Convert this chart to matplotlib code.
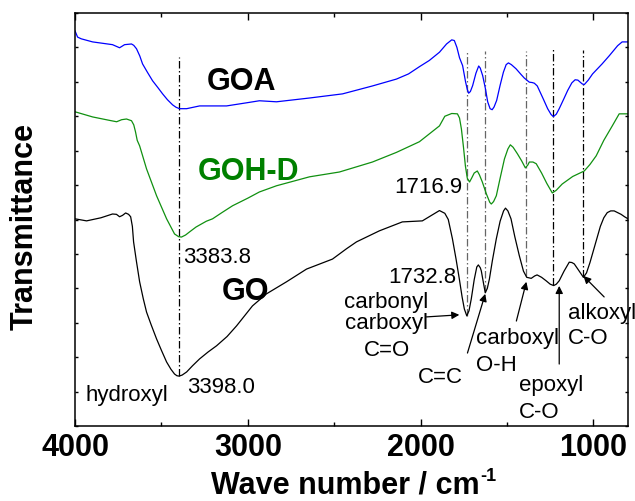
import numpy as np
import matplotlib
matplotlib.use("Agg")
import matplotlib.pyplot as plt

plt.rcParams["font.family"] = ["Liberation Sans", "DejaVu Sans"]

# FTIR spectra, offset vertically (arbitrary transmittance units)
goa_wn = [4000, 3985, 3964, 3898, 3783, 3742, 3713, 3673, 3660, 3644, 3625,
          3609, 3580, 3551, 3520, 3493, 3465, 3435, 3415, 3395, 3354, 3279,
          3123, 3008, 2933, 2834, 2643, 2452, 2279, 2140, 2070, 2007, 1950,
          1891, 1850, 1820, 1805, 1790, 1775, 1757, 1740, 1730, 1722, 1712,
          1699, 1680, 1664, 1655, 1641, 1625, 1612, 1598, 1586, 1575, 1560,
          1540, 1521, 1505, 1492, 1475, 1448, 1420, 1400, 1371, 1355, 1342,
          1325, 1313, 1290, 1265, 1245, 1232, 1215, 1198, 1170, 1149, 1125,
          1106, 1090, 1081, 1065, 1053, 1030, 1005, 950, 908, 860, 834, 800]
goa_t = [11.48, 11.30, 11.25, 11.16, 11.08, 10.99, 11.08, 11.10, 11.06, 10.96,
         10.75, 10.52, 10.27, 10.03, 9.83, 9.65, 9.48, 9.33, 9.26, 9.22, 9.22,
         9.30, 9.30, 9.39, 9.45, 9.42, 9.53, 9.65, 9.88, 10.08, 10.23, 10.44,
         10.62, 10.86, 11.10, 11.22, 11.20, 11.00, 10.70, 10.47, 10.00, 9.78,
         9.67, 9.72, 9.89, 10.25, 10.46, 10.40, 10.18, 9.80, 9.42, 9.22,
         9.19, 9.27, 9.46, 9.90, 10.28, 10.50, 10.55, 10.50, 10.38, 10.22,
         10.11, 9.99, 9.98, 9.96, 9.88, 9.75, 9.50, 9.22, 9.05, 8.99, 9.06,
         9.22, 9.52, 9.75, 9.97, 10.06, 10.05, 10.01, 9.94, 9.92, 10.05,
         10.23, 10.52, 10.76, 11.05, 11.16, 11.16]

gohd_wn = [4000, 3898, 3800, 3759, 3730, 3702, 3673, 3660, 3650, 3640, 3626,
           3586, 3528, 3470, 3424, 3400, 3383.8, 3360, 3337, 3300, 3279,
           3240, 3204, 3150, 3088, 3000, 2933, 2834, 2643, 2470, 2279, 2140,
           2007, 1891, 1860, 1820, 1787, 1775, 1764, 1752, 1741, 1730, 1716.9,
           1705, 1690, 1672, 1660, 1643, 1620, 1600, 1591, 1578, 1562, 1540,
           1515, 1495, 1481, 1465, 1440, 1415, 1394, 1380, 1371, 1350, 1331,
           1300, 1270, 1238, 1215, 1181, 1120, 1053, 1020, 984, 940, 891, 851,
           800]
gohd_t = [9.13, 8.98, 8.88, 8.84, 8.90, 8.92, 8.87, 8.75, 8.55, 8.30, 8.14,
          7.47, 6.69, 6.02, 5.58, 5.50, 5.49, 5.55, 5.64, 5.78, 5.84, 5.95,
          6.02, 6.20, 6.40, 6.62, 6.80, 6.98, 7.24, 7.38, 7.67, 7.95, 8.26,
          8.72, 9.00, 9.08, 9.07, 8.95, 8.63, 8.10, 7.56, 7.20, 7.09, 7.20,
          7.35, 7.41, 7.30, 7.09, 6.75, 6.50, 6.45, 6.52, 6.69, 7.20, 7.76,
          8.05, 8.17, 8.10, 7.91, 7.70, 7.50, 7.58, 7.67, 7.67, 7.62, 7.35,
          7.05, 6.77, 6.85, 7.03, 7.25, 7.41, 7.60, 7.85, 8.30, 8.72, 9.07,
          9.07]

go_wn = [4000, 3933, 3850, 3783, 3760, 3742, 3725, 3707, 3690, 3678, 3668,
         3661, 3645, 3626, 3605, 3586, 3560, 3528, 3500, 3470, 3445, 3424,
         3410, 3398.0, 3380, 3354, 3320, 3279, 3230, 3181, 3120, 3065, 2973,
         2892, 2776, 2660, 2510, 2429, 2371, 2239, 2106, 1990, 1891, 1860,
         1840, 1816, 1795, 1776, 1760, 1747, 1732.8, 1720, 1707, 1690, 1675,
         1666, 1655, 1649, 1638, 1626, 1614, 1602, 1585, 1562, 1540, 1520,
         1509, 1495, 1477, 1455, 1429, 1405, 1386, 1360, 1340, 1326, 1300,
         1274, 1250, 1230, 1215, 1198, 1170, 1140, 1125, 1111, 1085, 1058,
         1040, 1020, 1000, 980, 960, 940, 920, 900, 880, 860, 840, 820, 800]
go_t = [6.02, 5.96, 6.05, 6.16, 6.15, 6.08, 6.12, 6.19, 6.15, 6.08, 5.80,
        5.35, 4.80, 4.19, 3.70, 3.31, 2.95, 2.53, 2.20, 1.86, 1.65, 1.51,
        1.46, 1.45, 1.48, 1.57, 1.75, 1.95, 2.15, 2.33, 2.60, 2.91, 3.49,
        3.84, 4.19, 4.56, 4.85, 5.15, 5.35, 5.67, 5.93, 5.96, 6.26, 6.18,
        6.00, 5.44, 4.85, 4.27, 3.75, 3.40, 3.20, 3.35, 3.69, 4.25, 4.62,
        4.68, 4.60, 4.51, 4.20, 3.87, 4.00, 4.27, 4.80, 5.44, 5.95, 6.25,
        6.33, 6.25, 6.02, 5.50, 4.95, 4.50, 4.32, 4.29, 4.36, 4.39, 4.32,
        4.22, 4.12, 4.08, 4.12, 4.22, 4.50, 4.76, 4.75, 4.71, 4.52, 4.32,
        4.45, 4.75, 5.10, 5.45, 5.80, 6.05, 6.20, 6.25, 6.25, 6.20, 6.15,
        6.08, 6.02]

# peak positions marked with dash-dot guides, and where each guide starts
guide_wn = [3398.0, 1732.8, 1625, 1390, 1235, 1060]
guide_top = [10.73, 10.90, 10.90, 10.90, 10.99, 10.93]
guide_color = ["black", "#666666", "#666666", "#666666", "black", "black"]

fig = plt.figure(figsize=(6.35, 5.02), dpi=100)
ax = fig.add_axes([75 / 635, 1 - 427 / 502, 553 / 635, 413 / 502])

for wn, top, col in zip(guide_wn, guide_top, guide_color):
    bottom = np.interp(wn, go_wn[::-1], go_t[::-1])
    ax.plot([wn, wn], [bottom, top], color=col, lw=0.9,
            linestyle=(0, (6, 2, 1.2, 2)), zorder=1)

ax.plot(goa_wn, goa_t, color="#0000ff", lw=0.9, zorder=2)
ax.plot(gohd_wn, gohd_t, color="#109010", lw=0.9, zorder=2)
ax.plot(go_wn, go_t, color="black", lw=0.9, zorder=2)

ax.set_xlim(4000, 800)
ax.set_ylim(0, 12)
ax.set_xticks([4000, 3000, 2000, 1000])
ax.set_xticks([3500, 2500, 1500], minor=True)
ax.set_yticks(np.arange(0, 13, 1))
ax.set_yticklabels([])
ax.tick_params(axis="both", which="both", direction="in",
               top=True, right=True, width=1)
ax.tick_params(axis="x", which="major", length=5, pad=4,
               labelsize=22)
ax.tick_params(axis="x", which="minor", length=3)
ax.tick_params(axis="y", length=2.5)
for lab in ax.get_xticklabels():
    lab.set_fontweight("bold")
for sp in ax.spines.values():
    sp.set_linewidth(1.1)

# axis titles; the -1 exponent is set as its own small text
xlab = fig.text(345 / 635, 1 - 486 / 502, "Wave number / cm",
                ha="center", va="center", fontsize=22, fontweight="bold")
fig.canvas.draw()
bb = xlab.get_window_extent()
fig.text((bb.x1 + 1) / 635, (bb.y1 + 3) / 502, "-1", ha="left",
         va="top", fontsize=13, fontweight="bold")
fig.text(25 / 635, 1 - 226 / 502, "Transmittance", rotation=90,
         ha="center", va="center", fontsize=22, fontweight="bold")

# sample names
ax.text(3038, 10.01, "GOA", ha="center", va="center",
        fontsize=22, fontweight="bold", color="black")
ax.text(2996, 7.41, "GOH-D", ha="center", va="center",
        fontsize=22, fontweight="bold", color="#008000")
ax.text(3013, 3.92, "GO", ha="center", va="center",
        fontsize=22, fontweight="bold", color="black")

# peak positions
fs = 16
ax.text(3372, 4.77, "3383.8", ha="left", va="baseline", fontsize=fs)
ax.text(3349, 0.99, "3398.0", ha="left", va="baseline", fontsize=fs)
ax.text(3939, 0.76, "hydroxyl", ha="left", va="baseline", fontsize=fs)
ax.text(1759, 6.80, "1716.9", ha="right", va="baseline", fontsize=fs)
ax.text(1793, 4.19, "1732.8", ha="right", va="baseline", fontsize=fs)

# band assignments
ax.text(2197, 3.47, "carbonyl", ha="center", va="baseline", fontsize=fs)
ax.text(2197, 2.84, "carboxyl", ha="center", va="baseline", fontsize=fs)
ax.text(2197, 2.06, "C=O", ha="center", va="baseline", fontsize=fs)
ax.text(1886, 1.28, "C=C", ha="center", va="baseline", fontsize=fs)
ax.text(1678, 2.41, "carboxyl", ha="left", va="baseline", fontsize=fs)
ax.text(1678, 1.63, "O-H", ha="left", va="baseline", fontsize=fs)
ax.text(1429, 1.05, "epoxyl", ha="left", va="baseline", fontsize=fs)
ax.text(1429, 0.26, "C-O", ha="left", va="baseline", fontsize=fs)
ax.text(1146, 3.14, "alkoxyl", ha="left", va="baseline", fontsize=fs,
        clip_on=False)
ax.text(1146, 2.41, "C-O", ha="left", va="baseline", fontsize=fs)

arrow = dict(arrowstyle="-|>", color="black", lw=0.9, mutation_scale=11,
             shrinkA=0, shrinkB=0)
ax.annotate("", xy=(1776, 3.23), xytext=(1966, 3.17), arrowprops=arrow)
ax.annotate("", xy=(1626, 3.84), xytext=(1729, 2.12), arrowprops=arrow)
ax.annotate("", xy=(1388, 4.19), xytext=(1446, 3.05), arrowprops=arrow)
ax.annotate("", xy=(1198, 4.07), xytext=(1198, 1.80), arrowprops=arrow)
ax.annotate("", xy=(1058, 4.36), xytext=(938, 3.75), arrowprops=arrow)

fig.savefig("out.png", dpi=100)
